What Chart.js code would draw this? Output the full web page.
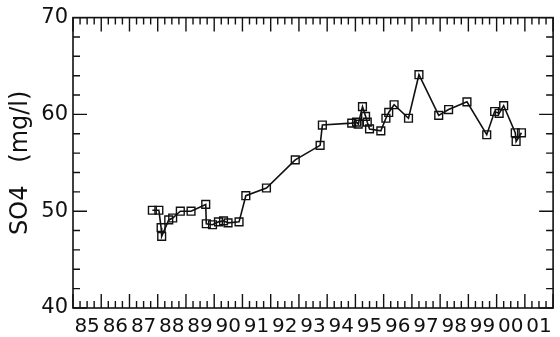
<!DOCTYPE html>
<html>
<head>
<meta charset="utf-8">
<script src="https://cdn.jsdelivr.net/npm/chart.js@4.4.1/dist/chart.umd.min.js"></script>
<style>
  html, body { margin: 0; padding: 0; background: #fff; }
  canvas { display: block; }
</style>
</head>
<body>
<canvas id="so4Chart" width="560" height="337"></canvas>
<script>
// ------------------------------
// DATA
// ------------------------------
const years = [
  1987.81, 1988.04, 1988.12, 1988.14, 1988.39, 1988.53, 1988.80, 1989.18,
  1989.70, 1989.72, 1989.94, 1990.15, 1990.33, 1990.49, 1990.88, 1991.12,
  1991.85, 1992.87, 1993.75, 1993.83, 1994.87, 1995.04, 1995.10, 1995.25,
  1995.36, 1995.42, 1995.50, 1995.90, 1996.08, 1996.18, 1996.37, 1996.88,
  1997.25, 1997.95, 1998.30, 1998.95, 1999.65, 1999.93, 2000.09, 2000.25,
  2000.66, 2000.69, 2000.88
];
const so4 = [
  50.1, 50.1, 48.3, 47.4, 49.1, 49.3, 50.0, 50.0,
  50.7, 48.7, 48.6, 48.9, 49.0, 48.8, 48.9, 51.6,
  52.4, 55.3, 56.8, 58.9, 59.1, 59.2, 59.0, 60.8,
  59.8, 59.2, 58.5, 58.3, 59.6, 60.2, 61.0, 59.6,
  64.1, 59.9, 60.5, 61.3, 57.9, 60.3, 60.1, 60.9,
  58.1, 57.2, 58.1
];
const yearLabels = ["85", "86", "87", "88", "89", "90", "91", "92", "93",
  "94", "95", "96", "97", "98", "99", "00", "01"];
const yTicks = [40, 50, 60, 70];

const firstYear = 1985;
const lastYear = 2002;

// ------------------------------
// FRAME + INWARD TICKS
// ------------------------------
const framePlugin = {
  id: "frameTicks",
  afterDraw(chart) {
    const { ctx, chartArea: a, scales: { x, y } } = chart;
    ctx.save();
    ctx.strokeStyle = "#111";
    ctx.lineWidth = 1.6;
    ctx.strokeRect(a.left, a.top, a.right - a.left, a.bottom - a.top);

    ctx.lineWidth = 1.4;
    ctx.beginPath();
    for (let v = firstYear; v <= lastYear + 0.001; v += 0.25) {
      const px = x.getPixelForValue(v);
      const len = Math.abs(v - Math.round(v)) < 0.01 ? 14 : 7;
      ctx.moveTo(px, a.bottom);
      ctx.lineTo(px, a.bottom - len);
      ctx.moveTo(px, a.top);
      ctx.lineTo(px, a.top + len);
    }
    for (let v = 40; v <= 70; v += 2) {
      const py = y.getPixelForValue(v);
      const len = v % 10 === 0 ? 14 : 7;
      ctx.moveTo(a.left, py);
      ctx.lineTo(a.left + len, py);
      ctx.moveTo(a.right, py);
      ctx.lineTo(a.right - len, py);
    }
    ctx.stroke();
    ctx.restore();
  }
};

// ------------------------------
// CHART
// ------------------------------
new Chart(document.getElementById("so4Chart"), {
  type: "line",
  data: {
    datasets: [{
      data: years.map((yr, i) => ({ x: yr, y: so4[i] })),
      borderColor: "#111",
      borderWidth: 1.6,
      pointStyle: "rect",
      pointRadius: 5.5,
      pointBorderWidth: 1.4,
      pointBorderColor: "#111",
      pointBackgroundColor: "rgba(0,0,0,0)",
      tension: 0
    }]
  },
  options: {
    responsive: false,
    animation: false,
    layout: { padding: { top: 17, right: 4, left: 0, bottom: 0 } },
    plugins: {
      legend: { display: false },
      tooltip: { enabled: false }
    },
    scales: {
      x: {
        type: "linear",
        min: firstYear,
        max: lastYear,
        grid: { display: false, drawTicks: false },
        border: { display: false },
        afterBuildTicks: (scale) => {
          scale.ticks = yearLabels.map((_, i) => ({ value: firstYear + i + 0.5 }));
        },
        afterFit: (scale) => { scale.height = 29; },
        ticks: {
          autoSkip: false,
          maxRotation: 0,
          padding: 7,
          color: "#111",
          font: { family: "DejaVu Sans", size: 20 },
          callback: (value) => yearLabels[Math.floor(value) - firstYear]
        }
      },
      y: {
        min: 40,
        max: 70,
        grid: { display: false, drawTicks: false },
        border: { display: false },
        afterBuildTicks: (scale) => {
          scale.ticks = yTicks.map(v => ({ value: v }));
        },
        afterFit: (scale) => { scale.width = 73; },
        ticks: {
          padding: 5,
          color: "#111",
          font: { family: "DejaVu Sans", size: 21 }
        },
        title: {
          display: true,
          text: "SO4   (mg/l)",
          color: "#111",
          padding: { top: 6, bottom: 0 },
          font: { family: "DejaVu Sans", size: 24 }
        }
      }
    }
  },
  plugins: [framePlugin]
});
</script>
</body>
</html>
